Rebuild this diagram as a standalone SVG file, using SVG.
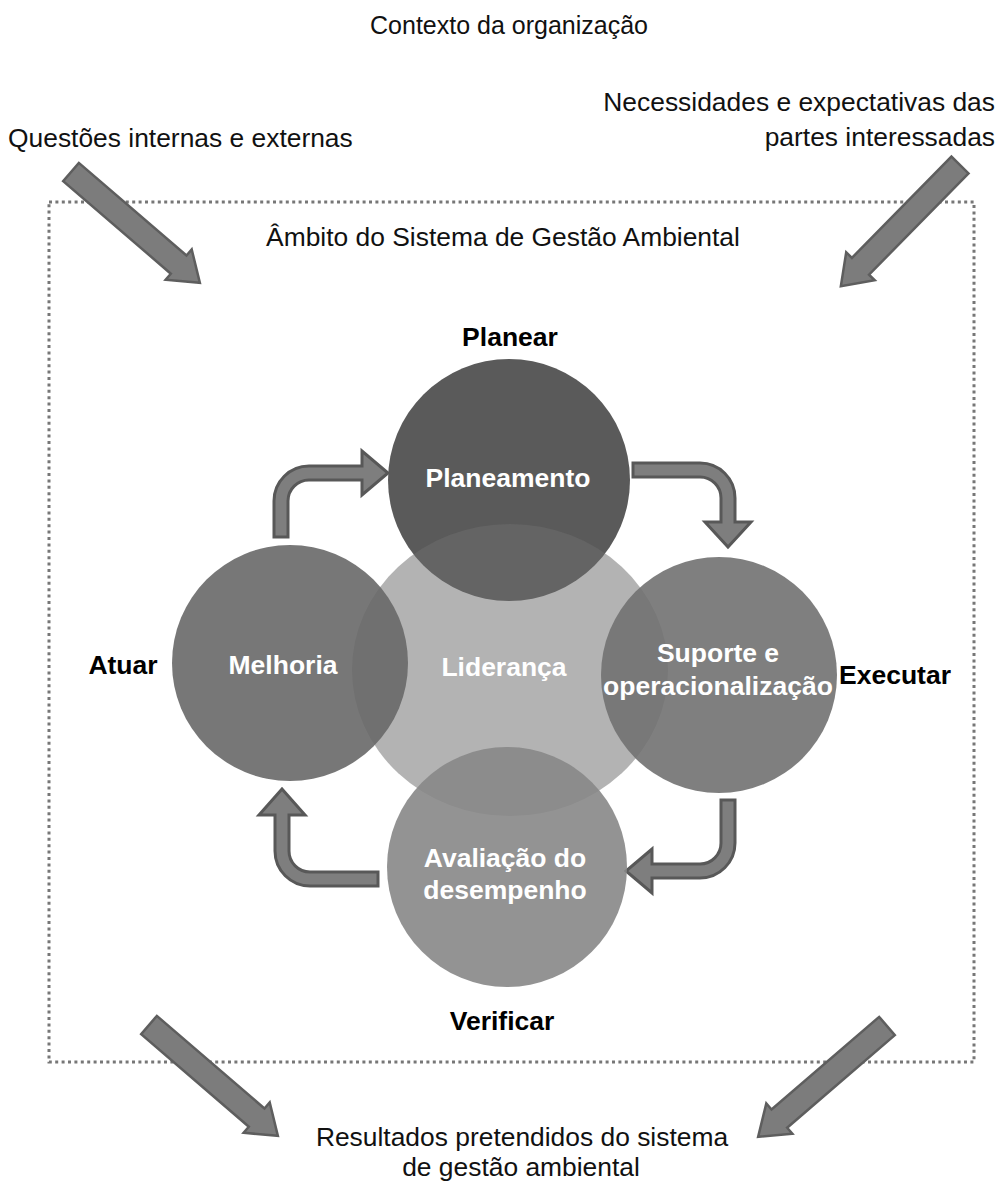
<svg xmlns="http://www.w3.org/2000/svg" width="999" height="1183" viewBox="0 0 999 1183">
<style>
.t{font-family:"Liberation Sans",Arial,sans-serif;font-size:26.4px;fill:#111}
.b{font-family:"Liberation Sans",Arial,sans-serif;font-size:26.5px;font-weight:bold;fill:#000}
.w{font-family:"Liberation Sans",Arial,sans-serif;font-size:26.5px;font-weight:bold;fill:#fff;text-anchor:middle}
.m{text-anchor:middle}
.e{text-anchor:end}
.big{fill:#7c7c7c;stroke:#5e5e5e;stroke-width:2.5;stroke-linejoin:miter}
.bent{fill:#7e7e7e;stroke:#585858;stroke-width:3;stroke-linejoin:miter}
</style>
<defs>
<path id="bigArrow" d="M0,-12 H142 V-20 L170,0 L142,20 V12 H0 Z"/>
</defs>
<rect width="999" height="1183" fill="#fff"/>

<g id="context">
<text class="t m" x="509" y="34" style="font-size:25px">Contexto da organização</text>
<text class="t" x="8" y="147">Questões internas e externas</text>
<text class="t e" x="995" y="111">Necessidades e expectativas das</text>
<text class="t e" x="995" y="146">partes interessadas</text>
</g>

<g id="scope">
<rect x="49" y="202" width="925" height="860" fill="none" stroke="#777" stroke-width="3" stroke-dasharray="3 3.4"/>
<text class="t m" x="503" y="246">Âmbito do Sistema de Gestão Ambiental</text>
</g>

<g id="connectors">
<use href="#bigArrow" class="big" transform="translate(71,172) rotate(40.7)"/>
<use href="#bigArrow" class="big" transform="translate(960,165) rotate(134.5)"/>
<use href="#bigArrow" class="big" transform="translate(149,1025) rotate(40.7)"/>
<use href="#bigArrow" class="big" transform="translate(887,1026) rotate(139.3)"/>
<path class="bent" d="M274,537 V501 A35,35 0 0 1 309,466 H362 V451 L388,473 L362,495 V480 H309 A21,21 0 0 0 288,501 V537 Z"/>
<path class="bent" d="M633,463 H700 A35,35 0 0 1 735,498 V522 H751 L728,547 L705,522 H721 V498 A21,21 0 0 0 700,477 H633 Z"/>
<path class="bent" d="M721,800 V843 A21,21 0 0 1 700,864 H652 V849 L626,871 L652,893 V878 H700 A35,35 0 0 0 735,843 V800 Z"/>
<path class="bent" d="M378,872 H310 A21,21 0 0 1 289,851 V815 H305 L282,789 L259,815 H275 V851 A35,35 0 0 0 310,886 H378 Z"/>
</g>

<g id="planeamento">
<circle cx="509" cy="480" r="121" fill="#5a5a5a"/>
</g>
<g id="lideranca">
<ellipse cx="510" cy="670" rx="158" ry="146" fill="#6d6d6d" fill-opacity="0.52"/>
<text class="w" x="504" y="676">Liderança</text>
</g>
<g id="planeamento-label">
<text class="w" x="508" y="487">Planeamento</text>
</g>
<g id="melhoria">
<circle cx="290" cy="663" r="118" fill="#686868" fill-opacity="0.9"/>
<text class="w" x="283" y="674">Melhoria</text>
</g>
<g id="suporte">
<circle cx="719" cy="675" r="118" fill="#717171" fill-opacity="0.9"/>
<text class="w" x="718" y="662">Suporte e</text>
<text class="w" x="718" y="695">operacionalização</text>
</g>
<g id="avaliacao">
<circle cx="507" cy="867" r="120" fill="#878787" fill-opacity="0.9"/>
<text class="w" x="505" y="867">Avaliação do</text>
<text class="w" x="505" y="899">desempenho</text>
</g>

<g id="phases">
<text class="b m" x="510" y="346">Planear</text>
<text class="b m" x="123" y="674">Atuar</text>
<text class="b m" x="895" y="684">Executar</text>
<text class="b m" x="502" y="1030">Verificar</text>
</g>

<g id="results">
<text class="t m" x="522" y="1146">Resultados pretendidos do sistema</text>
<text class="t m" x="521" y="1176">de gestão ambiental</text>
</g>
</svg>
